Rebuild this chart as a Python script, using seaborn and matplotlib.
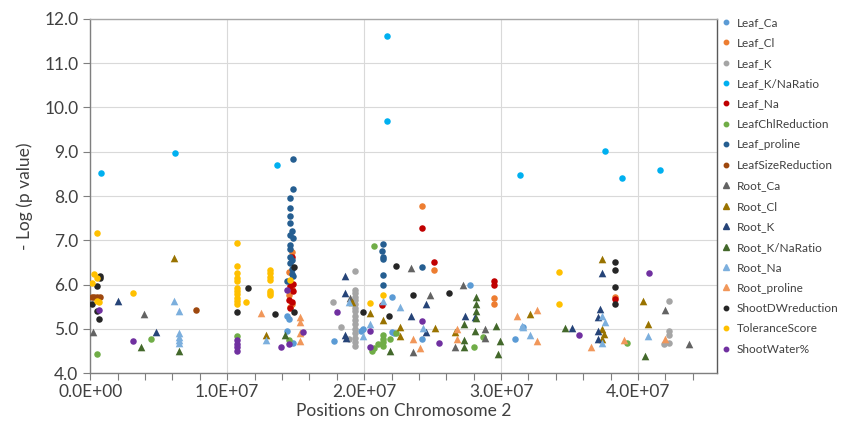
import matplotlib
matplotlib.use("Agg")
import matplotlib.pyplot as plt
import seaborn as sns
import pandas as pd
from matplotlib.ticker import MultipleLocator, FuncFormatter, FormatStrFormatter
from matplotlib.lines import Line2D

# ---- data (positions in Mb, values = -log p) ----
leaf_ca_x = [14.4, 14.5, 14.4, 14.6, 14.8, 17.8, 19.8, 22.0, 19.9, 22.0, 22.2, 24.2, 27.7, 31.0, 31.6]
leaf_ca_y = [5.28, 5.23, 4.96, 4.67, 4.69, 4.72, 4.96, 5.73, 4.99, 4.92, 4.90, 4.76, 5.98, 4.76, 5.05]

leaf_cl_x = [14.7, 14.5, 14.7, 14.5, 14.7, 14.6, 24.2, 25.1, 29.5, 29.5, 38.3]
leaf_cl_y = [6.73, 6.28, 5.89, 5.76, 5.57, 5.49, 7.77, 6.32, 5.69, 5.55, 5.71]

leaf_k_x = [19.3] * 16 + [17.7, 18.3, 18.9, 42.3, 42.3, 42.3, 42.3, 41.9]
leaf_k_y = [6.30, 5.87, 5.80, 5.73, 5.65, 5.57, 5.48, 5.40, 5.30, 5.20, 5.10, 5.00, 4.90,
            4.80, 4.70, 4.62, 5.60, 5.03, 4.78, 5.62, 4.96, 4.85, 4.67, 4.65]

leaf_kna_x = [0.8, 6.2, 13.6, 21.7, 21.7, 31.4, 37.6, 38.8, 41.6]
leaf_kna_y = [8.52, 8.97, 8.69, 11.62, 9.69, 8.47, 9.02, 8.40, 8.59]

leaf_na_x = [14.7, 14.6, 14.8, 14.5, 14.7, 14.6, 14.8, 24.2, 25.1, 21.3, 29.5, 29.5, 38.3]
leaf_na_y = [6.62, 5.96, 5.85, 5.64, 5.60, 5.46, 6.01, 7.27, 6.50, 5.53, 6.07, 6.00, 5.67]

leaf_chl_x = [0.5, 4.4, 10.7, 14.5, 20.7, 21.4, 21.4, 21.4, 21.4, 21.9, 20.7, 22.3, 28.0, 28.7, 39.2, 20.6, 21.0]
leaf_chl_y = [4.44, 4.76, 4.83, 4.74, 6.86, 4.85, 4.78, 4.70, 4.62, 4.76, 4.56, 4.90, 4.60, 4.81, 4.67, 4.50, 4.65]

leaf_pro_x = [14.8, 14.8, 14.6, 14.6, 14.6, 14.6, 14.7, 14.6, 14.8, 14.6, 14.6, 14.6, 14.6, 14.7, 14.8, 14.4,
              14.7, 14.7, 21.4, 21.3, 21.4, 21.4, 21.4, 21.4, 24.2]
leaf_pro_y = [8.83, 8.15, 7.95, 7.72, 7.54, 7.40, 7.22, 7.11, 7.06, 6.90, 6.81, 6.63, 6.48, 6.23, 6.19, 6.07,
              6.55, 6.35, 6.91, 6.75, 6.62, 6.57, 6.22, 6.00, 6.39]

leaf_size_x = [0.1, 0.3, 0.5, 0.7, 7.7]
leaf_size_y = [5.73, 5.73, 5.72, 5.72, 5.42]

root_ca_x = [0.2, 3.9, 19.0, 23.4, 24.8, 27.2, 23.6, 26.6, 28.8, 28.8, 42.0, 43.7]
root_ca_y = [4.92, 5.33, 5.69, 6.37, 5.76, 6.00, 4.47, 4.58, 4.99, 4.80, 5.42, 4.65]

root_cl_x = [6.1, 12.8, 19.1, 20.4, 21.4, 22.6, 22.6, 25.2, 26.6, 32.1, 37.4, 37.4, 37.5, 37.4, 40.4, 40.7]
root_cl_y = [6.59, 4.85, 5.60, 5.35, 5.19, 5.03, 4.83, 5.01, 4.92, 5.33, 6.57, 5.00, 4.88, 4.76, 5.62, 5.10]

root_k_x = [2.0, 4.8, 18.6, 18.6, 18.6, 24.5, 23.4, 24.5, 27.4, 28.1, 35.2, 37.2, 37.1, 37.1, 37.1, 37.4, 18.7]
root_k_y = [5.62, 4.92, 6.19, 5.80, 4.85, 5.55, 5.30, 4.92, 5.30, 5.26, 5.01, 5.44, 5.26, 4.94, 4.76, 6.25, 4.80]

root_kna_x = [3.7, 6.5, 14.2, 21.9, 28.2, 28.2, 28.2, 28.2, 28.1, 27.3, 27.3, 27.3, 29.6, 29.8, 29.9, 34.7, 40.5]
root_kna_y = [4.58, 4.49, 4.85, 4.51, 5.73, 5.55, 5.40, 5.25, 4.96, 5.12, 4.74, 4.60, 5.07, 4.42, 4.72, 5.01, 4.38]

root_na_x = [6.1, 6.5, 6.5, 6.5, 6.5, 6.5, 12.8, 18.9, 22.6, 21.4, 20.4, 24.3, 19.9, 31.5, 32.1, 31.6,
             37.4, 37.4, 40.7, 37.6]
root_na_y = [5.62, 5.40, 4.90, 4.82, 4.75, 4.68, 4.74, 5.60, 5.49, 5.62, 5.12, 5.01, 4.83, 5.07, 4.87, 5.05,
             5.28, 4.67, 4.83, 5.15]

root_pro_x = [12.5, 15.3, 15.3, 15.3, 15.3, 23.6, 24.1, 26.8, 26.8, 31.2, 32.6, 32.6, 36.6, 39.0, 42.0]
root_pro_y = [5.35, 5.26, 5.15, 4.90, 4.72, 4.76, 4.56, 4.99, 4.78, 5.28, 5.42, 4.72, 4.60, 4.74, 4.78]

shoot_dw_x = [0.7, 0.7, 0.5, 0.1, 0.5, 0.6, 10.7, 11.5, 13.5, 14.9, 14.9, 19.9, 22.3, 23.6, 26.2, 21.8,
              38.3, 38.3, 38.3, 38.3]
shoot_dw_y = [6.19, 6.14, 5.96, 5.57, 5.40, 5.23, 5.39, 5.92, 5.33, 6.39, 5.37, 5.39, 6.43, 5.76, 5.80, 5.30,
              6.50, 6.32, 5.94, 5.57]

tol_x = [0.5, 0.3, 0.5, 0.1, 0.5, 0.6, 3.1, 10.7, 10.7, 10.7, 10.7, 10.7, 10.7, 10.7, 10.7, 10.7, 10.7, 10.7,
         11.4, 13.1, 13.1, 13.1, 13.1, 13.1, 13.1, 13.1, 20.4, 21.4, 34.2, 34.2, 14.6]
tol_y = [7.16, 6.23, 6.15, 6.03, 5.62, 5.60, 5.80, 6.93, 6.43, 6.25, 6.15, 6.07, 5.92, 5.85, 5.78, 5.70, 5.62, 5.57,
         5.60, 6.32, 6.25, 6.18, 6.10, 5.85, 5.80, 5.76, 5.58, 5.76, 6.28, 5.57, 6.10]

water_x = [0.6, 3.1, 10.7, 10.7, 10.7, 10.7, 14.4, 13.9, 14.5, 15.5, 18.0, 20.4, 20.4, 24.2, 25.5, 35.7, 40.8]
water_y = [5.43, 4.72, 4.74, 4.65, 4.58, 4.51, 5.87, 4.58, 4.65, 4.92, 5.37, 4.94, 4.58, 5.17, 4.67, 4.85, 6.25]

series_names = ["Leaf_Ca", "Leaf_Cl", "Leaf_K", "Leaf_K/NaRatio", "Leaf_Na", "LeafChlReduction",
                "Leaf_proline", "LeafSizeReduction", "Root_Ca", "Root_Cl", "Root_K", "Root_K/NaRatio",
                "Root_Na", "Root_proline", "ShootDWreduction", "ToleranceScore", "ShootWater%"]
series_x = [leaf_ca_x, leaf_cl_x, leaf_k_x, leaf_kna_x, leaf_na_x, leaf_chl_x, leaf_pro_x, leaf_size_x,
            root_ca_x, root_cl_x, root_k_x, root_kna_x, root_na_x, root_pro_x, shoot_dw_x, tol_x, water_x]
series_y = [leaf_ca_y, leaf_cl_y, leaf_k_y, leaf_kna_y, leaf_na_y, leaf_chl_y, leaf_pro_y, leaf_size_y,
            root_ca_y, root_cl_y, root_k_y, root_kna_y, root_na_y, root_pro_y, shoot_dw_y, tol_y, water_y]
colors = ["#5B9BD5", "#ED7D31", "#A5A5A5", "#00B0F0", "#C00000", "#70AD47", "#255E91", "#9E480E",
          "#636363", "#997300", "#264478", "#43682B", "#7CAFDD", "#F1975A", "#262626", "#FFC000", "#7030A0"]
markers = ["o"] * 8 + ["^"] * 6 + ["o"] * 3

# ---- figure ----
sns.set_style("white")
plt.rcParams["font.family"] = ["Lato", "DejaVu Sans"]

fig, ax = plt.subplots(figsize=(8.44, 4.41), dpi=100)
fig.subplots_adjust(left=0.107, right=0.85, top=0.957, bottom=0.154)

handles = []
for name, xs, ys, c, m in zip(series_names, series_x, series_y, colors, markers):
    df = pd.DataFrame({"pos": [v * 1e6 for v in xs], "val": ys})
    sz = 22 if m == "o" else 30
    sns.scatterplot(data=df, x="pos", y="val", color=c, marker=m, s=sz, linewidth=0, ax=ax,
                    zorder=3, legend=False)
    handles.append(Line2D([], [], linestyle="none", marker=m, color=c,
                          markersize=3.2 if m == "o" else 3.8, label=name))

ax.set_xlim(0, 4.58e7)
ax.set_ylim(4.0, 12.0)
ax.yaxis.set_major_locator(MultipleLocator(1.0))
ax.yaxis.set_major_formatter(FormatStrFormatter("%.1f"))
ax.xaxis.set_major_locator(MultipleLocator(1e7))
ax.xaxis.set_minor_locator(MultipleLocator(2e6))
ax.xaxis.set_major_formatter(FuncFormatter(lambda v, p: f"{v:.1E}"))

ax.grid(True, which="major", color="#D9D9D9", linewidth=0.8, zorder=0)
ax.set_axisbelow(True)
for side in ["left", "bottom", "top", "right"]:
    ax.spines[side].set_visible(True)
    ax.spines[side].set_color("#7F7F7F")
    ax.spines[side].set_linewidth(1.0)
ax.spines["top"].set_color("#A6A6A6")
ax.spines["right"].set_color("#595959")

ax.tick_params(axis="both", which="major", direction="out", length=5, width=0.8, color="#7F7F7F",
               labelsize=12.5, labelcolor="#404040", bottom=True, left=True)
ax.tick_params(axis="x", which="minor", direction="out", length=5, width=0.8, color="#7F7F7F", bottom=True)
ax.tick_params(axis="x", pad=3)

ax.set_xlabel("Positions on Chromosome 2", fontsize=12.5, color="#404040", labelpad=2)
ax.set_ylabel("- Log (p value)", fontsize=12.5, color="#404040", labelpad=8)

fig.legend(handles=handles, loc="upper left", bbox_to_anchor=(0.855, 0.962), frameon=False,
           fontsize=8.5, labelspacing=0.8, handlelength=0.8, handletextpad=0.5, borderpad=0,
           borderaxespad=0, labelcolor="#404040")

fig.savefig("out.png", dpi=100)
